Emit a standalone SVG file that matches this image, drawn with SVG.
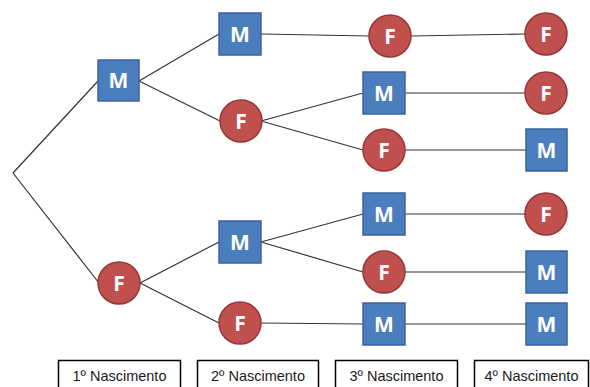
<svg xmlns="http://www.w3.org/2000/svg" width="590" height="387" viewBox="0 0 590 387">
<style>
.sq{fill:#4a7ebf;stroke:#3a639c;stroke-width:1.5}
.ci{fill:#c0504d;stroke:#953735;stroke-width:1.5}
.lt{font-family:"Open Sans","Liberation Sans",sans-serif;font-weight:bold;font-size:21px;fill:#fff;text-anchor:middle}
.ln{stroke:#333;stroke-width:1.2;fill:none}
.bx{fill:#fff;stroke:#000;stroke-width:1.5}
.bt{font-family:"Liberation Sans","Open Sans",sans-serif;font-size:14.5px;fill:#1a1a1a;text-anchor:middle}
</style>
<rect width="590" height="387" fill="#fff"/>
<g id="connectors">
<path class="ln" d="M13,173 L98,81 M13,173 L99,283"/>
<path class="ln" d="M139,81 L219,34 M139,81 L220,121"/>
<path class="ln" d="M140,283 L219,242 M140,283 L219,323"/>
<path class="ln" d="M261,34 L369,36"/>
<path class="ln" d="M261,121 L363,93 M261,121 L363,150"/>
<path class="ln" d="M261,242 L363,214 M261,242 L363,272"/>
<path class="ln" d="M261,323 L363,324"/>
<path class="ln" d="M411,36 L525,34"/>
<path class="ln" d="M405,93 L525,93"/>
<path class="ln" d="M405,150 L526,150"/>
<path class="ln" d="M405,214 L525,214"/>
<path class="ln" d="M405,272 L526,272"/>
<path class="ln" d="M405,324 L526,324"/>
</g>
<g id="n1M"><rect class="sq" x="98" y="60" width="41" height="41"/><text class="lt" x="118.5" y="88">M</text></g>
<g id="n1F"><circle class="ci" cx="119" cy="283" r="21"/><text class="lt" x="119" y="291">F</text></g>
<g id="n2M1"><rect class="sq" x="219" y="13" width="42" height="42"/><text class="lt" x="240" y="42">M</text></g>
<g id="n2F1"><circle class="ci" cx="241" cy="121" r="21"/><text class="lt" x="241" y="129">F</text></g>
<g id="n2M2"><rect class="sq" x="219" y="221" width="42" height="42"/><text class="lt" x="240" y="250">M</text></g>
<g id="n2F2"><circle class="ci" cx="240" cy="323" r="21"/><text class="lt" x="240" y="331">F</text></g>
<g id="n3F1"><circle class="ci" cx="390" cy="36" r="21"/><text class="lt" x="390" y="44">F</text></g>
<g id="n3M1"><rect class="sq" x="363" y="72" width="42" height="42"/><text class="lt" x="384" y="101">M</text></g>
<g id="n3F2"><circle class="ci" cx="384" cy="150" r="21"/><text class="lt" x="384" y="158">F</text></g>
<g id="n3M2"><rect class="sq" x="363" y="193" width="42" height="42"/><text class="lt" x="384" y="222">M</text></g>
<g id="n3F3"><circle class="ci" cx="384" cy="272" r="21"/><text class="lt" x="384" y="280">F</text></g>
<g id="n3M3"><rect class="sq" x="363" y="303" width="42" height="42"/><text class="lt" x="384" y="332">M</text></g>
<g id="n4F1"><circle class="ci" cx="546" cy="34" r="21"/><text class="lt" x="546" y="42">F</text></g>
<g id="n4F2"><circle class="ci" cx="546" cy="93" r="21"/><text class="lt" x="546" y="101">F</text></g>
<g id="n4M1"><rect class="sq" x="526" y="129" width="41" height="42"/><text class="lt" x="546.5" y="158">M</text></g>
<g id="n4F3"><circle class="ci" cx="546" cy="214" r="21"/><text class="lt" x="546" y="222">F</text></g>
<g id="n4M2"><rect class="sq" x="526" y="251" width="41" height="42"/><text class="lt" x="546.5" y="280">M</text></g>
<g id="n4M3"><rect class="sq" x="526" y="303" width="41" height="42"/><text class="lt" x="546.5" y="332">M</text></g>
<g id="labels">
<g id="lab1"><rect class="bx" x="58.5" y="360.5" width="122" height="32"/><text class="bt" x="119.5" y="381">1º Nascimento</text></g>
<g id="lab2"><rect class="bx" x="197.5" y="360.5" width="121" height="32"/><text class="bt" x="258" y="381">2º Nascimento</text></g>
<g id="lab3"><rect class="bx" x="335.5" y="360.5" width="122" height="32"/><text class="bt" x="396.5" y="381">3º Nascimento</text></g>
<g id="lab4"><rect class="bx" x="474.5" y="360.5" width="114" height="32"/><text class="bt" x="531.5" y="381">4º Nascimento</text></g>
</g>
</svg>
